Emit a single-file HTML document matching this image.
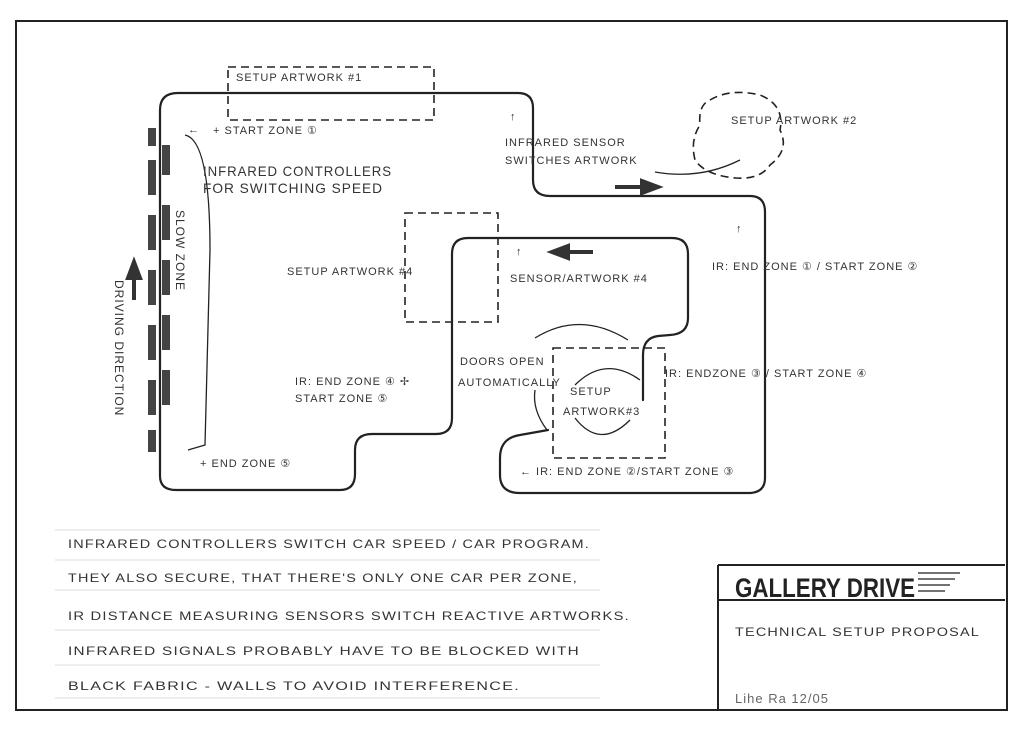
<!DOCTYPE html>
<html><head><meta charset="utf-8"><style>
html,body{margin:0;padding:0;background:#fff;}
svg{display:block}
text{font-family:"Liberation Sans",sans-serif;fill:#333;letter-spacing:1px;}
</style></head><body>
<svg width="1024" height="730" viewBox="0 0 1024 730" xmlns="http://www.w3.org/2000/svg">
<rect x="0" y="0" width="1024" height="730" fill="#fff"/>
<rect x="16" y="21" width="991" height="689" fill="none" stroke="#222" stroke-width="2"/>
<!-- title block -->
<path d="M718,565 H1005 M718,565 V710 M718,600 H1005" stroke="#222" stroke-width="2" fill="none"/>
<text x="735" y="597" font-size="27" font-weight="bold" style="fill:#222;letter-spacing:0" textLength="180" lengthAdjust="spacingAndGlyphs">GALLERY DRIVE</text>
<g stroke="#444" stroke-width="1.5"><line x1="918" y1="573" x2="960" y2="573"/><line x1="918" y1="579" x2="955" y2="579"/><line x1="918" y1="585" x2="950" y2="585"/><line x1="918" y1="591" x2="945" y2="591"/></g>
<text x="735" y="636" font-size="12" textLength="245" lengthAdjust="spacingAndGlyphs">TECHNICAL SETUP PROPOSAL</text>
<text x="735" y="703" font-size="13" style="fill:#666">Lihe     Ra     12/05</text>
<!-- faint lines -->
<g stroke="#ddd" stroke-width="1"><line x1="55" y1="530" x2="600" y2="530"/><line x1="55" y1="560" x2="600" y2="560"/><line x1="55" y1="590" x2="600" y2="590"/><line x1="55" y1="630" x2="600" y2="630"/><line x1="55" y1="665" x2="600" y2="665"/><line x1="55" y1="698" x2="600" y2="698"/></g>
<g font-size="12">
<text x="68" y="548" textLength="522" lengthAdjust="spacingAndGlyphs">INFRARED CONTROLLERS SWITCH CAR SPEED / CAR PROGRAM.</text>
<text x="68" y="582" textLength="510" lengthAdjust="spacingAndGlyphs">THEY ALSO SECURE, THAT THERE'S ONLY ONE CAR PER ZONE,</text>
<text x="68" y="620" textLength="562" lengthAdjust="spacingAndGlyphs">IR DISTANCE MEASURING SENSORS SWITCH REACTIVE ARTWORKS.</text>
<text x="68" y="655" textLength="512" lengthAdjust="spacingAndGlyphs">INFRARED SIGNALS PROBABLY HAVE TO BE BLOCKED WITH</text>
<text x="68" y="690" textLength="452" lengthAdjust="spacingAndGlyphs">BLACK FABRIC - WALLS TO AVOID INTERFERENCE.</text>
</g>
<!-- track -->
<g fill="none" stroke="#222" stroke-width="2.2" stroke-linecap="round" stroke-linejoin="round">
<path d="M160,110 Q160,93 178,93 L518,93 Q533,93 533,108 L533,180 Q533,196 550,196 L750,196 Q765,196 765,212 L765,478 Q765,493 748,493 L520,493 Q500,493 500,475 L500,458 Q500,438 520,435 L548,430"/>
<path d="M160,110 L160,476 Q160,490 176,490 L340,490 Q355,490 355,474 L355,450 Q355,434 372,434 L436,434 Q452,434 452,418 L452,254 Q452,238 468,238 L672,238 Q688,238 688,254 L688,318 Q688,334 670,335 L658,336 Q643,338 643,355 L643,400"/>
</g>
<!-- dashed boxes -->
<g fill="none" stroke="#222" stroke-width="1.6" stroke-dasharray="8,5">
<rect x="228" y="67" width="206" height="53"/>
<path d="M405,213 H498 V322 H405 Z"/>
<path d="M553,348 H665 V458 H553 Z"/>
<path d="M710,100 Q730,88 760,95 Q785,105 780,130 Q790,150 770,165 Q760,180 735,178 Q705,175 695,160 Q690,140 700,125 Q698,105 710,100 Z"/>
</g>
<!-- circle arrows -->
<g fill="none" stroke="#222" stroke-width="1.3">
<path d="M575,385 Q605,355 640,380"/>
<path d="M575,418 Q600,450 630,420"/>
<path d="M535,338 Q580,310 628,340"/>
<path d="M535,390 Q532,410 547,430"/>
<path d="M655,172 Q700,180 740,160"/>
</g>
<!-- slow zone hatch -->
<g fill="#444">
<rect x="148" y="128" width="8" height="18"/><rect x="162" y="145" width="8" height="30"/>
<rect x="148" y="160" width="8" height="35"/><rect x="148" y="215" width="8" height="35"/>
<rect x="162" y="205" width="8" height="35"/><rect x="148" y="270" width="8" height="35"/>
<rect x="162" y="260" width="8" height="35"/><rect x="148" y="325" width="8" height="35"/>
<rect x="162" y="315" width="8" height="35"/><rect x="148" y="380" width="8" height="35"/>
<rect x="162" y="370" width="8" height="35"/><rect x="148" y="430" width="8" height="22"/>
</g>
<path d="M185,135 Q210,140 210,250 L205,445 L188,450" fill="none" stroke="#222" stroke-width="1.3"/>
<!-- big arrows -->
<path d="M134,300 V272 M128,278 L134,262 L140,278 Z" stroke="#333" stroke-width="4" fill="#333"/>
<path d="M615,187 H645 M642,181 L658,187 L642,193 Z" stroke="#333" stroke-width="4" fill="#333"/>
<path d="M593,252 H565 M568,246 L552,252 L568,258 Z" stroke="#333" stroke-width="4" fill="#333"/>
<g font-size="11">
<text x="236" y="81">SETUP ARTWORK #1</text>
<text x="213" y="134">+ START ZONE ①</text>
<text x="731" y="124">SETUP ARTWORK #2</text>
<text x="505" y="146">INFRARED SENSOR</text>
<text x="505" y="164">SWITCHES ARTWORK</text>
<text x="287" y="275">SETUP ARTWORK #4</text>
<text x="510" y="282">SENSOR/ARTWORK #4</text>
<text x="712" y="270">IR: END ZONE ① / START ZONE ②</text>
<text x="665" y="377">IR: ENDZONE ③ / START ZONE ④</text>
<text x="460" y="365">DOORS OPEN</text>
<text x="458" y="386">AUTOMATICALLY</text>
<text x="570" y="395">SETUP</text>
<text x="563" y="415">ARTWORK#3</text>
<text x="295" y="385">IR: END ZONE ④ ✢</text>
<text x="295" y="402">START ZONE ⑤</text>
<text x="200" y="467">+ END ZONE ⑤</text>
<text x="520" y="475">← IR: END ZONE ②/START ZONE ③</text>
</g>
<text x="203" y="176" font-size="14" textLength="189" lengthAdjust="spacingAndGlyphs">INFRARED CONTROLLERS</text>
<text x="203" y="193" font-size="14" textLength="180" lengthAdjust="spacingAndGlyphs">FOR SWITCHING SPEED</text>
<text transform="translate(176,210) rotate(90)" font-size="12">SLOW ZONE</text>
<text transform="translate(115,280) rotate(90)" font-size="12">DRIVING DIRECTION</text>
<g font-size="11"><text x="510" y="120">↑</text><text x="736" y="232">↑</text><text x="516" y="255">↑</text><text x="188" y="133">←</text></g>
</svg>
</body></html>
